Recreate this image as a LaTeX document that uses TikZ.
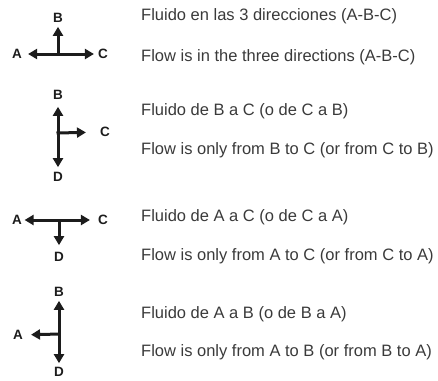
\documentclass[tikz,border=0pt]{standalone}
\usepackage{fontspec}
\setmainfont{Liberation Sans}
\usetikzlibrary{arrows.meta}
\definecolor{txtgray}{HTML}{3A3A3A}
\definecolor{ink}{HTML}{1C1C1C}

\begin{document}
\begin{tikzpicture}[x=1pt, y=-1pt,
                    lbl/.style={font=\fontsize{13.5}{13.5}\selectfont\bfseries, text=ink, inner sep=0pt},
                    txt/.style={anchor=west, inner sep=0pt, text=txtgray, font=\fontsize{16.5}{18}\selectfont},
                    flow/.style={draw=ink, line width=3pt, -{Triangle[length=9pt,width=10pt]}},
                    both/.style={flow, {Triangle[length=9pt,width=10pt]}-{Triangle[length=9pt,width=10pt]}}]
      \useasboundingbox (0,0) rectangle (438,380);
      % three directions
      \node[lbl] (b1) at (58,18) {B};
      \node[lbl] (a1) at (17,54) {A};
      \node[lbl] (c1) at (103,54) {C};
      \coordinate (j1) at (58,54);
      \draw[both, shorten <=6pt, shorten >=4pt] (a1) -- (c1);
      \draw[flow, shorten >=4pt] ([yshift=1.5pt]j1) -- (b1);
      % B to C
      \node[lbl] (b2) at (58,95) {B};
      \node[lbl] (d2) at (58,177) {D};
      \node[lbl] (c2) at (105,132) {C};
      \coordinate (j2) at (58,133);
      \draw[both, shorten <=7pt, shorten >=5pt] (b2) -- (d2);
      \draw[flow, shorten >=14pt] ([xshift=-1.5pt]j2) -- (c2);
      % A to C
      \node[lbl] (a3) at (17,220) {A};
      \node[lbl] (c3) at (103,220) {C};
      \node[lbl] (d3) at (59,257) {D};
      \coordinate (j3) at (59,220);
      \draw[both, shorten <=2.5pt, shorten >=8pt] (a3) -- (c3);
      \draw[flow, shorten >=7pt] ([yshift=-1.5pt]j3) -- (d3);
      % A to B
      \node[lbl] (b4) at (59,292) {B};
      \node[lbl] (d4) at (59,372) {D};
      \node[lbl] (a4) at (18,335) {A};
      \coordinate (j4) at (59,334);
      \draw[both, shorten <=4pt, shorten >=4pt] (b4) -- (d4);
      \draw[flow, shorten >=8pt] ([xshift=1.5pt]j4) -- (a4);
      % captions
      \foreach \y/\t in {16/Fluido en las 3 direcciones (A-B-C),
                         57/Flow is in the three directions (A-B-C),
                         111/Fluido de B a C (o de C a B),
                         150/Flow is only from B to C (or from C to B),
                         217/Fluido de A a C (o de C a A),
                         256/Flow is only from A to C (or from C to A),
                         314/Fluido de A a B (o de B a A),
                         352/Flow is only from A to B (or from B to A)}
        \node[txt] (t\y) at (141,\y) {\t};
\end{tikzpicture}
\end{document}
